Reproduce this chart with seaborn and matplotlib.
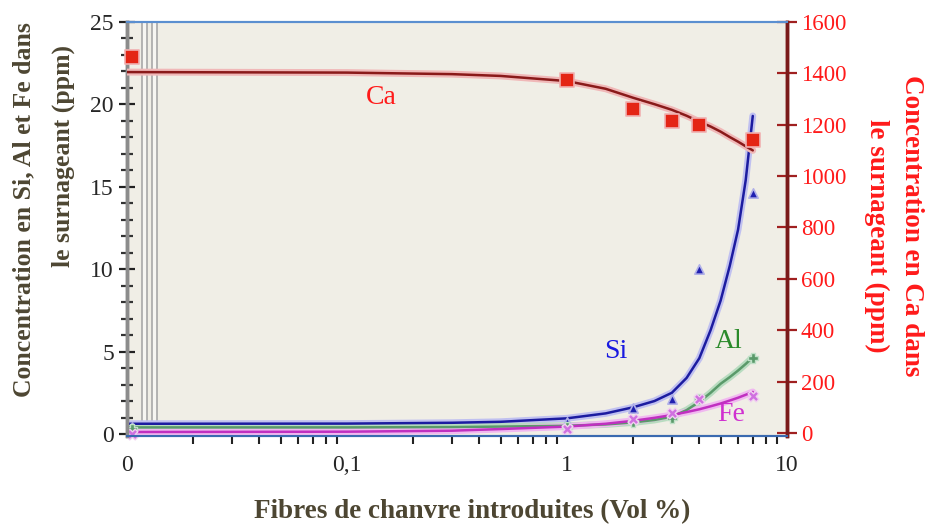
import pandas as pd
import matplotlib
matplotlib.use('Agg')
import matplotlib.pyplot as plt
from matplotlib.ticker import FixedLocator, NullFormatter
import seaborn as sns

sns.set_style('ticks')
plt.rcParams['font.family'] = ['Liberation Serif', 'DejaVu Serif']

# mesures (0 % de fibres placé à 0,01 sur l'axe log)
vol = [0.0105, 1, 2, 3, 4, 7]
ca = [1465, 1375, 1262, 1215, 1200, 1142]
si = [0.45, 0.75, 1.6, 2.1, 10.0, 14.6]
al = [0.3, 0.4, 0.7, 1.0, 2.1, 4.6]
fe = [0.0, 0.3, 0.9, 1.3, 2.1, 2.3]

# courbes de tendance
fit_x = [0.01, 0.1, 0.3, 0.5, 1, 1.5, 2, 2.5, 3, 3.5, 4, 4.5, 5, 5.5, 6, 6.5, 7]
ca_fit = [1405, 1403, 1397, 1390, 1370, 1340, 1305, 1280, 1258, 1235, 1212,
          1193, 1173, 1152, 1134, 1116, 1100]
si_fit = [0.62, 0.63, 0.68, 0.74, 0.95, 1.25, 1.62, 2.0, 2.5, 3.4, 4.6,
          6.3, 8.1, 10.2, 12.4, 15.4, 19.3]
al_fit = [0.4, 0.4, 0.42, 0.45, 0.5, 0.58, 0.7, 0.85, 1.05, 1.45, 1.95,
          2.5, 3.05, 3.45, 3.85, 4.25, 4.65]
fe_fit = [0.12, 0.14, 0.2, 0.3, 0.45, 0.62, 0.8, 0.98, 1.15, 1.33, 1.5,
          1.68, 1.85, 2.03, 2.2, 2.38, 2.55]

xticks = [0.01, 0.1, 1, 10]
xticklabels = ['0', '0,1', '1', '10']

pts = pd.DataFrame({'vol': vol, 'Ca': ca, 'Si': si, 'Al': al, 'Fe': fe})
fits = pd.DataFrame({'vol': fit_x, 'Ca': ca_fit, 'Si': si_fit, 'Al': al_fit, 'Fe': fe_fit})

fig = plt.figure(figsize=(9.28, 5.24), dpi=100)
ax = fig.add_axes([0.1369, 0.168, 0.711, 0.790])
ax2 = ax.twinx()
ax.set_facecolor('#f0eee6')

# barres grises verticales (coupure d'axe)
for x0, x1 in [(0.01171, 0.01233), (0.01300, 0.0137)]:
    ax.axvspan(x0, x1, facecolor='#f7f6f2', edgecolor='#a8a8a8', lw=1.2, zorder=1)

# courbes de tendance (halo clair + trait foncé)
styles = {'Si': ('#c0c0f0', '#1c1ca0'), 'Al': ('#b8dcc0', '#5a9a6a'), 'Fe': ('#f0b8f0', '#c030c0')}
for el, (light, dark) in styles.items():
    sns.lineplot(data=fits, x='vol', y=el, ax=ax, color=light, lw=5, zorder=3)
    sns.lineplot(data=fits, x='vol', y=el, ax=ax, color=dark, lw=1.8, zorder=4)
sns.lineplot(data=fits, x='vol', y='Ca', ax=ax2, color='#f0b8b8', lw=5, zorder=3)
sns.lineplot(data=fits, x='vol', y='Ca', ax=ax2, color='#8a1a1a', lw=1.8, zorder=4)

# points de mesure
sns.scatterplot(data=pts, x='vol', y='Si', ax=ax, marker='^', s=45, color='#2020b0',
                edgecolor='#b0b0e8', linewidth=1.2, zorder=5, clip_on=False)
sns.scatterplot(data=pts, x='vol', y='Al', ax=ax, marker='P', s=55, color='#5a9a6a',
                edgecolor='#c0e0c8', linewidth=1, zorder=5, clip_on=False)
sns.scatterplot(data=pts, x='vol', y='Fe', ax=ax, marker='X', s=60, color='#d070e0',
                edgecolor='#f0d0f0', linewidth=1, zorder=5, clip_on=False)
sns.scatterplot(data=pts, x='vol', y='Ca', ax=ax2, marker='s', s=95, color='#e42515',
                edgecolor='#f0b0b0', linewidth=1.2, zorder=5, clip_on=False)

ax.set_xscale('log')
ax.set_xlim(0.01, 10)
ax.set_ylim(-0.12, 25)
ax2.set_ylim(-12, 1600)

ax.xaxis.set_major_locator(FixedLocator(xticks))
ax.set_xticklabels(xticklabels)
minor = [m * d for d in [0.01, 0.1, 1] for m in range(2, 10)]
ax.xaxis.set_minor_locator(FixedLocator(minor))
ax.xaxis.set_minor_formatter(NullFormatter())
ax.tick_params(axis='x', which='both', direction='out', length=6, width=1.5,
               color='#222222', labelsize=17, pad=14)
ax.tick_params(axis='x', which='major', length=0)

ax.set_yticks([0, 5, 10, 15, 20, 25])
ax.set_yticks(range(0, 26), minor=True)
ax.tick_params(axis='y', which='major', direction='inout', length=11, width=1.6,
               color='#222222', labelsize=17, pad=4)
ax.tick_params(axis='y', which='minor', direction='inout', length=8, width=1.6, color='#333333')

ax2.set_yticks(range(0, 1601, 200))
ax2.tick_params(axis='y', direction='inout', length=14, width=1.6, color='#a02020',
                labelcolor='#ff1a1a', labelsize=16.5, pad=3)

ax.set_xlabel('')
ax.set_ylabel('')
ax2.set_ylabel('')

for a in (ax, ax2):
    a.spines['top'].set_color('#5b8fd0')
    a.spines['top'].set_linewidth(1.5)
    a.spines['bottom'].set_color('#3a6ab0')
    a.spines['bottom'].set_linewidth(1.5)
    a.spines['left'].set_color('#8c8c8c')
    a.spines['left'].set_linewidth(2.5)
    a.spines['right'].set_color('#7a1a1a')
    a.spines['right'].set_linewidth(2.5)

# étiquettes des séries
ax2.text(0.143, 1306, 'Ca', color='#ff1a1a', fontsize=20, ha='center', va='center')
ax.text(1.66, 4.98, 'Si', color='#1a1ae0', fontsize=20, ha='center', va='center')
ax.text(5.44, 5.6, 'Al', color='#2a8a2a', fontsize=20, ha='center', va='center')
ax.text(5.6, 1.2, 'Fe', color='#d030d0', fontsize=20, ha='center', va='center')

# titres des axes
olive = '#4d4632'
fig.text(24 / 928, 1 - 210 / 524, 'Concentration en Si, Al et Fe dans', rotation=90,
         color=olive, fontsize=18.5, fontweight='bold', ha='center', va='center')
fig.text(63 / 928, 1 - 156 / 524, 'le surnageant (ppm)', rotation=90,
         color=olive, fontsize=18.5, fontweight='bold', ha='center', va='center')
fig.text(912 / 928, 1 - 226 / 524, 'Concentration en Ca dans', rotation=270,
         color='#ff1a1a', fontsize=19.5, fontweight='bold', ha='center', va='center')
fig.text(877 / 928, 1 - 236 / 524, 'le surnageant (ppm)', rotation=270,
         color='#ff1a1a', fontsize=19.5, fontweight='bold', ha='center', va='center')
fig.text(472 / 928, 1 - 512 / 524, 'Fibres de chanvre introduites (Vol %)',
         color=olive, fontsize=19.5, fontweight='bold', ha='center', va='center')

fig.savefig('out.png', dpi=100, facecolor='white')
